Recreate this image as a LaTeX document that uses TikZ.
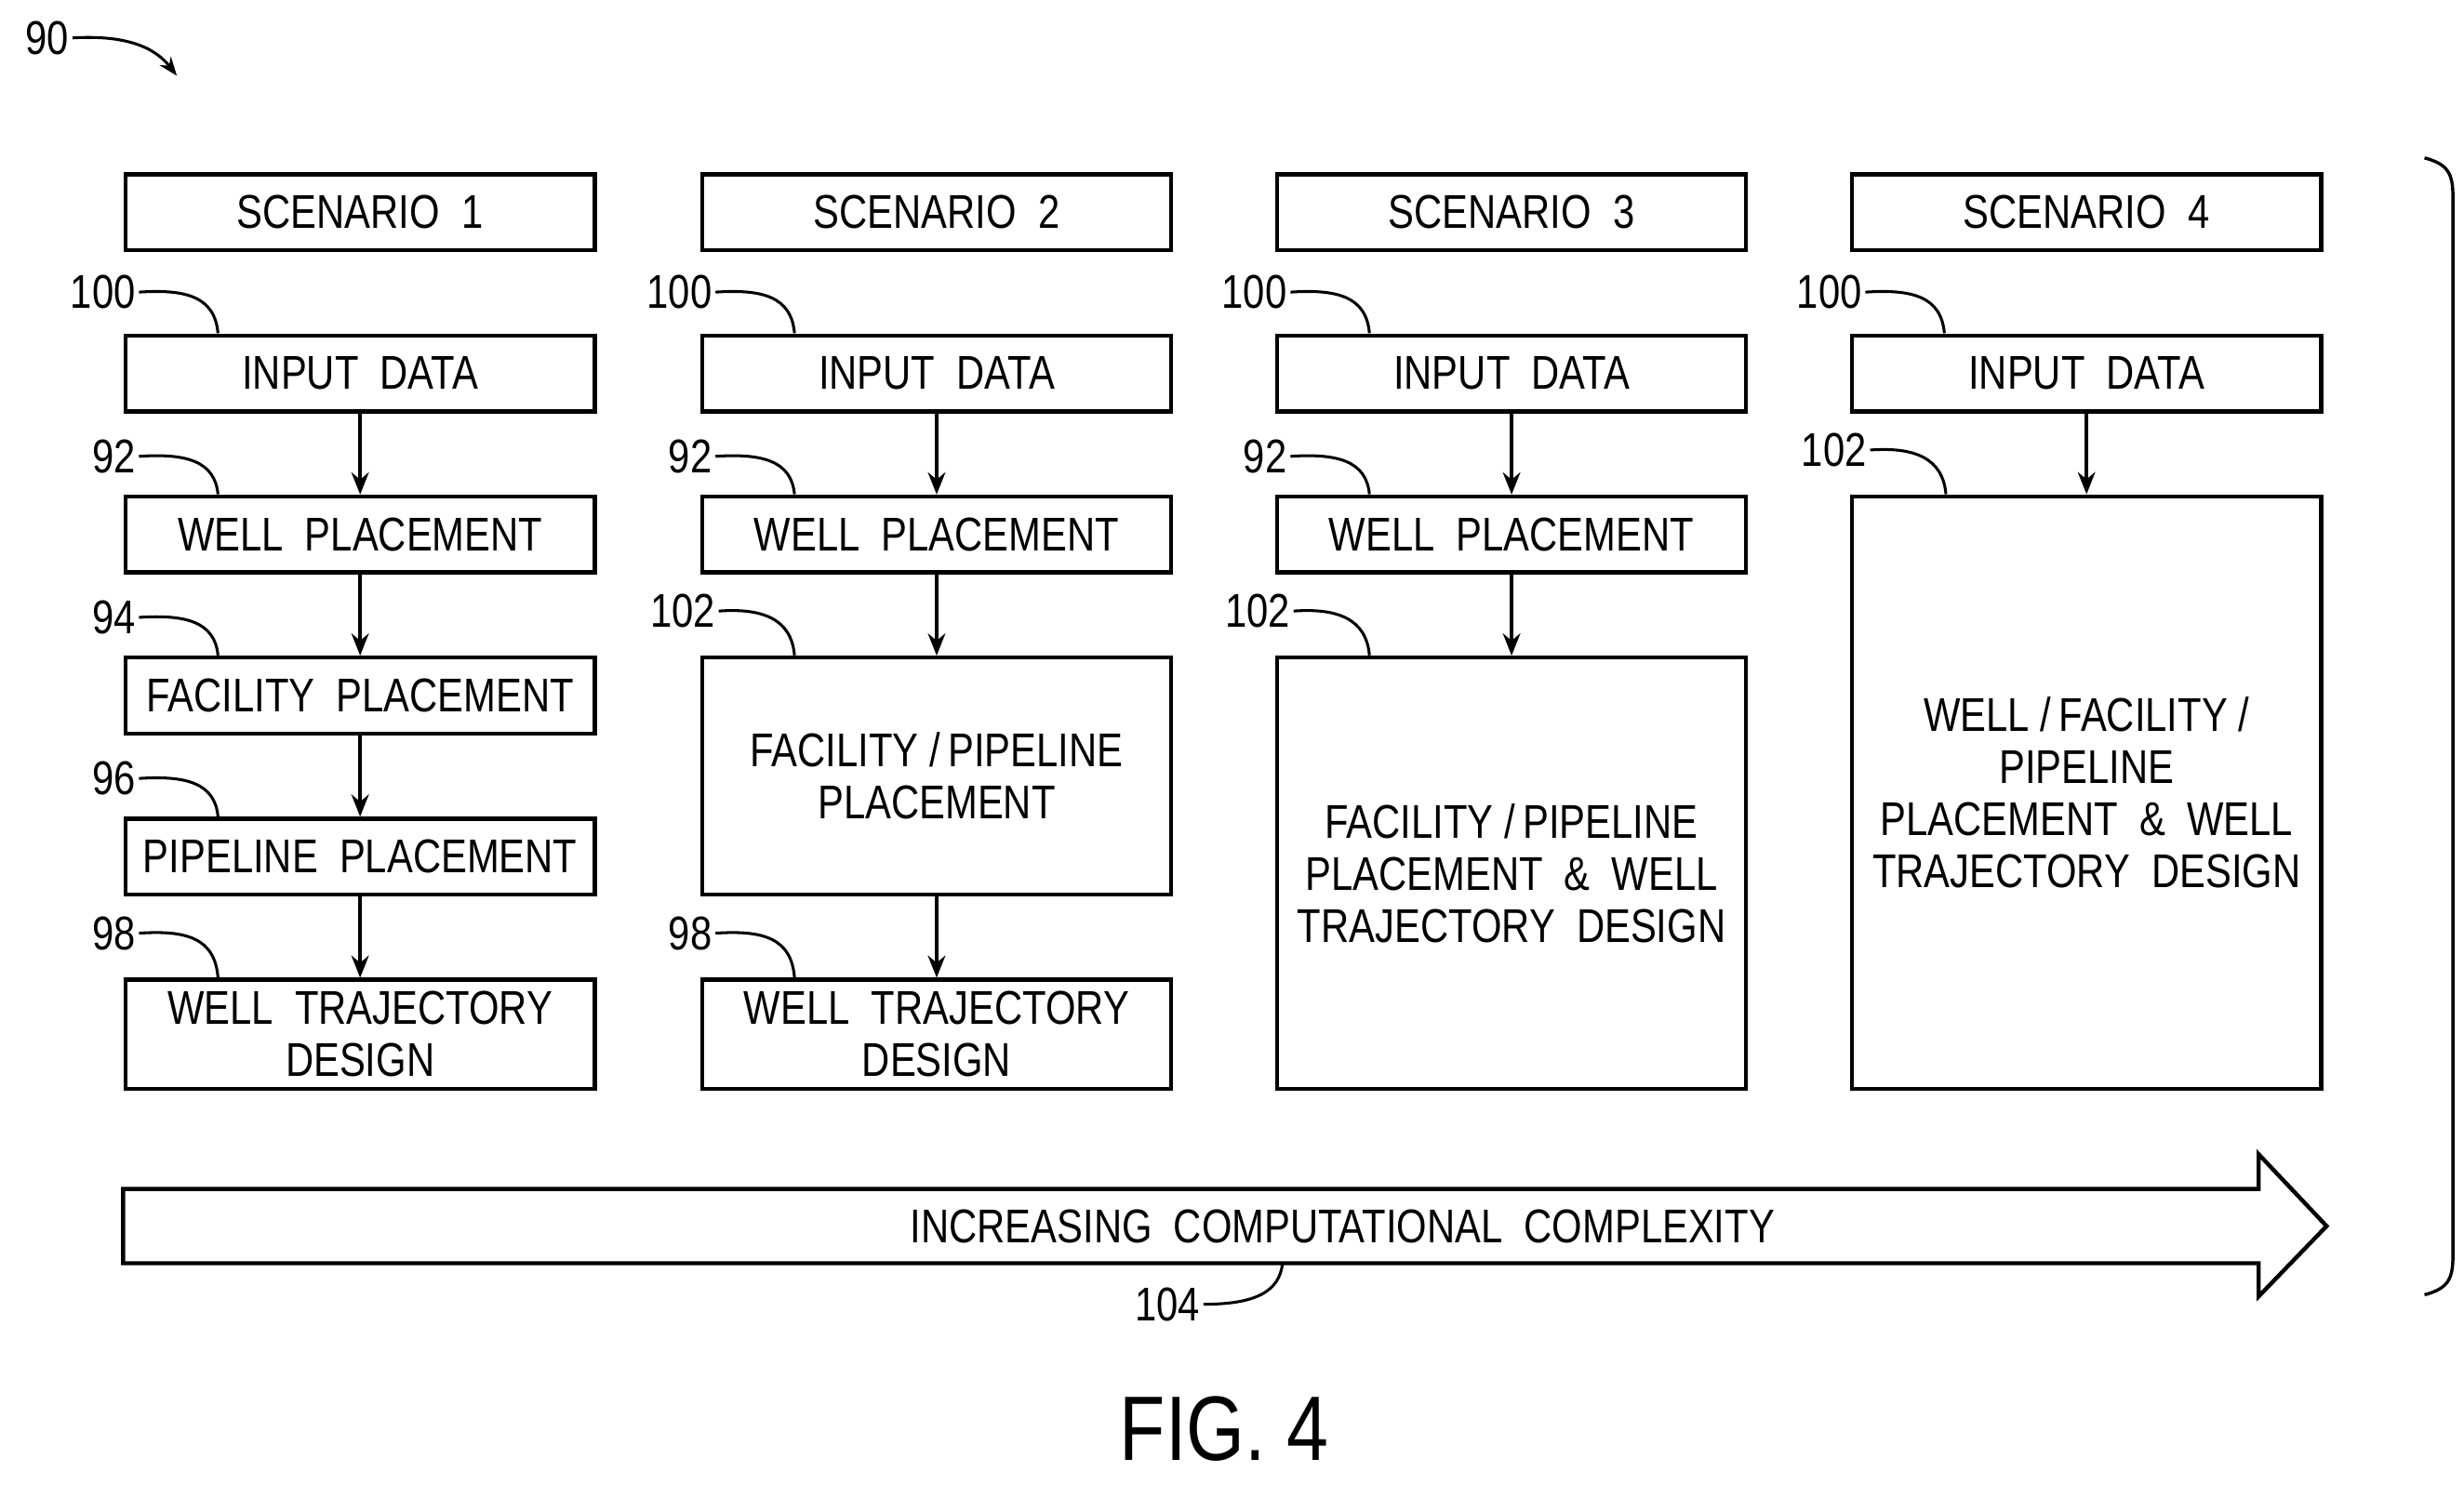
\documentclass[tikz,border=0pt]{standalone}
\usepackage{fontspec}
\setmainfont{Liberation Sans}[FakeStretch=0.82]
\usetikzlibrary{arrows.meta}
\begin{document}
\begin{tikzpicture}[x=1pt,y=-1pt,line width=2.6pt,
 box/.style={draw,rectangle,minimum width=297pt,align=center,inner sep=0pt,font=\fontsize{30}{33}\selectfont},
 lab/.style={font=\fontsize{30}{30}\selectfont,inner sep=1pt},
 ld/.style={line width=1.8pt},
 ar/.style={-{Stealth[length=14pt,width=11pt]}}]
\useasboundingbox (0,0) rectangle (1560,940);
\foreach \c/\x in {1/228,2/593,3/957,4/1321}{
 \node[box,minimum height=48pt] (s\c) at (\x,134.5) {SCENARIO\ \ \c};
 \node[box,minimum height=48pt] (i\c) at (\x,236.5) {INPUT\ \ DATA};
 \node[lab,anchor=east] (l100\c) at (\x-140,185) {100};
 \draw[ld] (l100\c.east) .. controls (\x-110,183) and (\x-92,188) .. (\x-90,211);
}
\foreach \c/\x in {1/228,2/593,3/957}{
 \node[box,minimum height=48pt] (w\c) at (\x,338.5) {WELL\ \ PLACEMENT};
 \node[lab,anchor=east] (l92\c) at (\x-140,289) {92};
 \draw[ld] (l92\c.east) .. controls (\x-110,287) and (\x-92,292) .. (\x-90,313);
 \draw[ar] (i\c) -- (w\c);
}
\node[box,minimum height=48pt] (f1) at (228,440.5) {FACILITY\ \ PLACEMENT};
\node[box,minimum height=48pt] (p1) at (228,542.5) {PIPELINE\ \ PLACEMENT};
\node[box,minimum height=69pt] (t1) at (228,655) {WELL\ \ TRAJECTORY\\DESIGN};
\draw[ar] (w1) -- (f1); \draw[ar] (f1) -- (p1); \draw[ar] (p1) -- (t1);
\node[lab,anchor=east] (l94) at (88,391) {94};
\draw[ld] (l94.east) .. controls (118,389) and (136,394) .. (138,415);
\node[lab,anchor=east] (l96) at (88,493) {96};
\draw[ld] (l96.east) .. controls (118,491) and (136,496) .. (138,517);
\node[lab,anchor=east] (l981) at (88,591) {98};
\draw[ld] (l981.east) .. controls (118,589) and (136,594) .. (138,619);
\node[box,minimum height=150pt] (f2) at (593,491.5) {FACILITY\ /\,PIPELINE\\PLACEMENT};
\node[box,minimum height=69pt] (t2) at (593,655) {WELL\ \ TRAJECTORY\\DESIGN};
\draw[ar] (w2) -- (f2); \draw[ar] (f2) -- (t2);
\node[lab,anchor=east] (l1022) at (455,387) {102};
\draw[ld] (l1022.east) .. controls (483,385) and (501,392) .. (503,415);
\node[lab,anchor=east] (l982) at (453,591) {98};
\draw[ld] (l982.east) .. controls (483,589) and (501,594) .. (503,619);
\node[box,minimum height=273pt] (f3) at (957,553) {FACILITY\ /\,PIPELINE\\PLACEMENT\ \ \&\ \ WELL\\TRAJECTORY\ \ DESIGN};
\draw[ar] (w3) -- (f3);
\node[lab,anchor=east] (l1023) at (819,387) {102};
\draw[ld] (l1023.east) .. controls (847,385) and (865,392) .. (867,415);
\node[box,minimum height=375pt] (f4) at (1321,502) {WELL\ /\,FACILITY\ /\\PIPELINE\\PLACEMENT\ \ \&\ \ WELL\\TRAJECTORY\ \ DESIGN};
\node[coordinate] (f4t) at (1321,313) {};
\draw[ar] (i4) -- (f4t);
\node[lab,anchor=east] (l1024) at (1184,285) {102};
\draw[ld] (l1024.east) .. controls (1212,283) and (1230,290) .. (1232,313);
% big arrow
\draw (1430,753) -- (78,753) -- (78,800) -- (1430,800) -- (1430,821) -- (1473,776.5) -- (1430,731) -- cycle;
\node[lab] (inc) at (850,777) {INCREASING\ \ COMPUTATIONAL\ \ COMPLEXITY};
\node[lab,anchor=east] (l104) at (762,826) {104};
\draw[ld] (l104.east) .. controls (795,826) and (810,818) .. (812,800);
% bracket
\draw[line width=2pt] (1535,100) .. controls (1550,104) and (1553,110) .. (1553,125) -- (1553,795) .. controls (1553,810) and (1550,816) .. (1535,820);
\node[lab,anchor=east] (l90) at (46,24) {90};
\draw[ld,-{Stealth[length=12pt,width=9pt]}] (l90.east) .. controls (80,22) and (98,30) .. (112,48);
\node[font=\fontsize{58}{58}\selectfont] (fig) at (775,905) {FIG.\ 4};
\end{tikzpicture}
\end{document}
